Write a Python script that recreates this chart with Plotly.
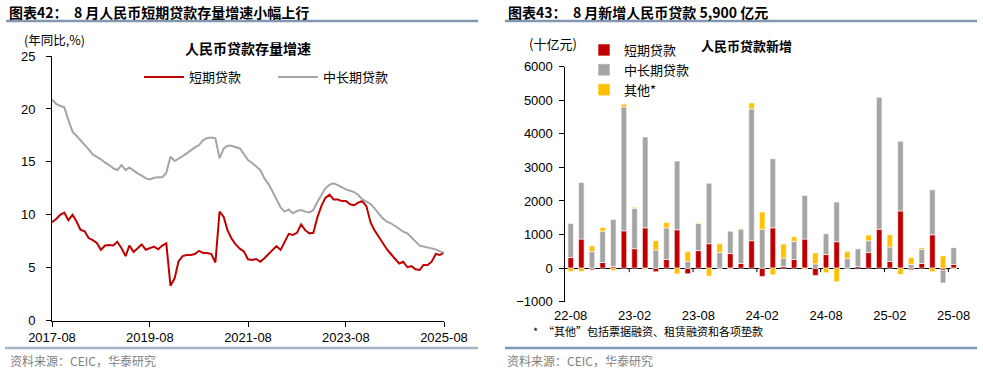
import plotly.graph_objects as go
import pandas as pd

# ---------------- data: left chart (loan stock growth, % yoy) ----------------
months_left = pd.date_range("2017-08-01", "2025-08-01", freq="MS")
short_growth = [
    9.3, 9.6, 10.0, 10.2, 9.5, 10.0, 9.35, 8.6, 8.45, 7.8, 7.6, 7.35,
    6.7, 7.1, 7.15, 7.1, 7.45, 6.85, 6.1, 7.1, 6.5, 6.85, 7.2, 6.7,
    6.85, 7.0, 6.75, 7.1, 7.3, 3.3, 4.0, 5.6, 6.1, 6.2, 6.2, 6.3,
    6.6, 6.4, 6.4, 6.3, 5.5, 10.3, 9.8, 8.55, 7.75, 7.2, 6.8, 6.55,
    5.8, 5.73, 5.83, 5.57, 5.9, 6.3, 6.6, 7.05, 6.68, 7.45, 8.2, 8.1,
    8.3, 9.1, 8.55, 8.25, 8.3, 9.8, 10.9, 11.6, 11.9, 11.45, 11.45, 11.3,
    11.3, 11.0, 10.9, 11.15, 11.3, 10.8, 9.25, 8.55, 7.9, 7.3, 6.75, 6.3,
    5.8, 5.4, 5.57, 5.05, 5.15, 4.85, 4.8, 5.26, 5.26, 5.57, 6.3, 6.2,
    6.42,
]
midlong_growth = [
    20.9, 20.47, 20.3, 20.15, 18.95, 17.85, 17.44, 17.06, 16.59, 16.18, 15.7, 15.48,
    15.24, 14.92, 14.7, 14.39, 14.23, 14.7, 14.23, 14.48, 14.17, 13.91, 13.7, 13.44,
    13.35, 13.5, 13.54, 13.54, 13.98, 15.48, 15.08, 15.27, 15.55, 15.8, 16.12, 16.37,
    16.59, 17.06, 17.25, 17.31, 17.22, 15.33, 16.27, 16.53, 16.53, 16.43, 16.27, 15.74,
    15.17, 14.9, 14.54, 14.23, 13.44, 12.9, 12.18, 11.4, 10.7, 10.3, 10.5, 10.14,
    10.36, 10.45, 10.3, 10.23, 10.45, 11.24, 11.87, 12.5, 12.85, 12.97, 12.81, 12.6,
    12.4, 12.28, 12.15, 11.87, 11.46, 11.24, 11.02, 10.61, 10.14, 9.67, 9.35, 9.2,
    8.94, 8.63, 8.41, 8.25, 7.87, 7.46, 7.09, 7.0, 6.93, 6.84, 6.74, 6.55,
    6.42,
]
left_tick_dates = ["2017-08-01", "2019-08-01", "2021-08-01", "2023-08-01", "2025-08-01"]
left_tick_labels = ["2017-08", "2019-08", "2021-08", "2023-08", "2025-08"]

# ---------------- data: right chart (new RMB loans, bn yuan) ----------------
bar_months = [
    "22-08", "22-09", "22-10", "22-11", "22-12",
    "23-01", "23-02", "23-03", "23-04", "23-05", "23-06", "23-07", "23-08", "23-09", "23-10", "23-11", "23-12",
    "24-01", "24-02", "24-03", "24-04", "24-05", "24-06", "24-07", "24-08", "24-09", "24-10", "24-11", "24-12",
    "25-01", "25-02", "25-03", "25-04", "25-05", "25-06", "25-07", "25-08",
]
short_new = [
    315, 866, -50, 167, 50,
    1112, 580, 1200, -108, 256, 1142, -167, 522, 728, 0, 433, 138,
    817, -246, 1200, 50, 256, 866, -217, 404, 787, 0, 50, 463,
    1161, 197, 1703, -50, 138, 994, -60, 108,
]
midlong_new = [
    1015, 1683, 492, 935, 1397,
    3691, 1201, 2707, 541, 944, 2047, 197, 807, 1802, 463, 669, 1023,
    3927, 1161, 2058, 255, 541, 1299, 128, 620, 1182, 285, 531, 354,
    3937, 433, 2077, 108, 423, 1339, -383, 502,
]
other_new = [
    -100, -100, 168, 108, -70,
    79, 30, -30, 276, 158, -177, 295, 29, -236, 265, -15, 20,
    177, 512, -197, 413, 138, -30, 325, -138, -404, 207, 0, 167,
    0, 364, -187, 207, 49, -108, 364, -20,
]
bar_tick_labels = ["22-08", "23-02", "23-08", "24-02", "24-08", "25-02", "25-08"]

# ---------------- styling ----------------
W, H = 983, 372
CJK = "Noto Sans CJK SC"
NUM = "Liberation Sans, Arial"
RED, GRAY, YEL = "#C00000", "#A5A5A5", "#FFC000"
RULE = "#8497B0"


def px(x):
    return x / W


def py(y):
    return 1 - y / H


fig = go.Figure()

# left lines
fig.add_trace(go.Scatter(x=months_left, y=short_growth, mode="lines", name="短期贷款",
                         line=dict(color=RED, width=2), xaxis="x", yaxis="y", legend="legend"))
fig.add_trace(go.Scatter(x=months_left, y=midlong_growth, mode="lines", name="中长期贷款",
                         line=dict(color=GRAY, width=2), xaxis="x", yaxis="y", legend="legend"))

# right bars
xb = list(range(len(bar_months)))
for name, vals, col in [("短期贷款", short_new, RED), ("中长期贷款", midlong_new, GRAY), ("其他*", other_new, YEL)]:
    fig.add_trace(go.Bar(x=xb, y=vals, name=name, marker=dict(color=col, line=dict(color="white", width=0.6)),
                         width=0.52, xaxis="x2", yaxis="y2", legend="legend2",
                         hovertext=bar_months))

axis_font = dict(family=NUM, size=13, color="#000")

fig.update_layout(
    width=W, height=H, margin=dict(l=0, r=0, t=0, b=0, autoexpand=False),
    plot_bgcolor="white", paper_bgcolor="white",
    barmode="relative", bargap=0.48,
    xaxis=dict(domain=[px(52), px(444)], type="date",
               range=[months_left[0], months_left[-1]],
               tickvals=left_tick_dates, ticktext=left_tick_labels,
               showline=True, linecolor="#000", linewidth=1, ticks="outside", ticklen=5,
               tickcolor="#000", showgrid=False, zeroline=False, tickfont=axis_font, anchor="y",
               automargin=False),
    yaxis=dict(domain=[py(320.7), py(56)], range=[0, 25], dtick=5, tick0=0,
               showline=True, linecolor="#000", linewidth=1, ticks="outside", ticklen=5,
               tickcolor="#000", showgrid=False, zeroline=False, tickfont=axis_font,
               ticklabelstandoff=8, anchor="x", automargin=False),
    xaxis2=dict(domain=[px(565.4), px(959)], range=[-0.5, len(bar_months) - 0.5],
                tickvals=[bar_months.index(t) for t in bar_tick_labels], ticktext=bar_tick_labels,
                showline=False, ticks="", showgrid=False, zeroline=False, tickfont=axis_font,
                ticklabelstandoff=4, anchor="y2", automargin=False),
    yaxis2=dict(domain=[py(301.7), py(66.7)], range=[-1000, 6000], dtick=1000,
                showline=True, linecolor="#000", linewidth=1, ticks="outside", ticklen=5,
                tickcolor="#000", showgrid=False, zeroline=True, zerolinecolor="#000",
                zerolinewidth=1, tickfont=axis_font, ticklabelstandoff=4, anchor="x2",
                automargin=False),
    legend=dict(orientation="h", x=px(139), y=py(77), xanchor="left", yanchor="middle",
                font=dict(family=CJK, size=13, color="#000"), itemwidth=40,
                entrywidth=79, entrywidthmode="pixels", bgcolor="rgba(0,0,0,0)"),
    legend2=dict(orientation="v", x=px(584), y=py(35), xanchor="left", yanchor="top",
                 font=dict(family=CJK, size=13, color="#000"), itemwidth=30,
                 traceorder="normal", bgcolor="rgba(0,0,0,0)", tracegroupgap=0),
    showlegend=True,
)

# tick marks between categories on the zero line (every 6 months)
for i in range(len(bar_months)):
    if i % 6 == 0 and i > 0:
        fig.add_shape(type="line", xref="x2", yref="y2", x0=i - 0.5, x1=i - 0.5, y0=0, y1=-120,
                      line=dict(color="#000", width=1))

# rules
for x0, x1, y, col in [(6, 478, 21, RULE), (505, 977, 21, RULE), (5, 478, 348, "#A6B5C6"), (505, 977, 348, "#7F97B2")]:
    fig.add_shape(type="line", xref="paper", yref="paper", x0=px(x0), x1=px(x1), y0=py(y), y1=py(y),
                  line=dict(color=col, width=2.5))

annos = [
    (7, 12, "<b>图表42：  8 月人民币短期贷款存量增速小幅上行</b>", 14, "#000", CJK, "left"),
    (506, 12, "<b>图表43：  8 月新增人民币贷款 5,900 亿元</b>", 14, "#000", CJK, "left"),
    (22, 39, "(年同比,%)", 12.5, "#000", CJK, "left"),
    (248, 48, "<b>人民币贷款存量增速</b>", 14, "#000", CJK, "center"),
    (527, 43, "(十亿元)", 13, "#000", CJK, "left"),
    (746, 45, "<b>人民币贷款新增</b>", 13, "#000", CJK, "center"),
    (531, 331, "*  “其他”包括票据融资、租赁融资和各项垫款", 11, "#000", CJK, "left"),
    (8, 360, "资料来源：CEIC，华泰研究", 12, "#7F7F7F", CJK, "left"),
    (505, 360, "资料来源：CEIC，华泰研究", 12, "#7F7F7F", CJK, "left"),
]
for x, y, t, s, c, f, anc in annos:
    fig.add_annotation(x=px(x), y=py(y), xref="paper", yref="paper", text=t, showarrow=False,
                       xanchor=anc, yanchor="middle", font=dict(family=f, size=s, color=c))

fig.write_html("out.html", config={"displayModeBar": False},
               post_script="document.body.style.margin='0';document.body.style.overflow='hidden';")
